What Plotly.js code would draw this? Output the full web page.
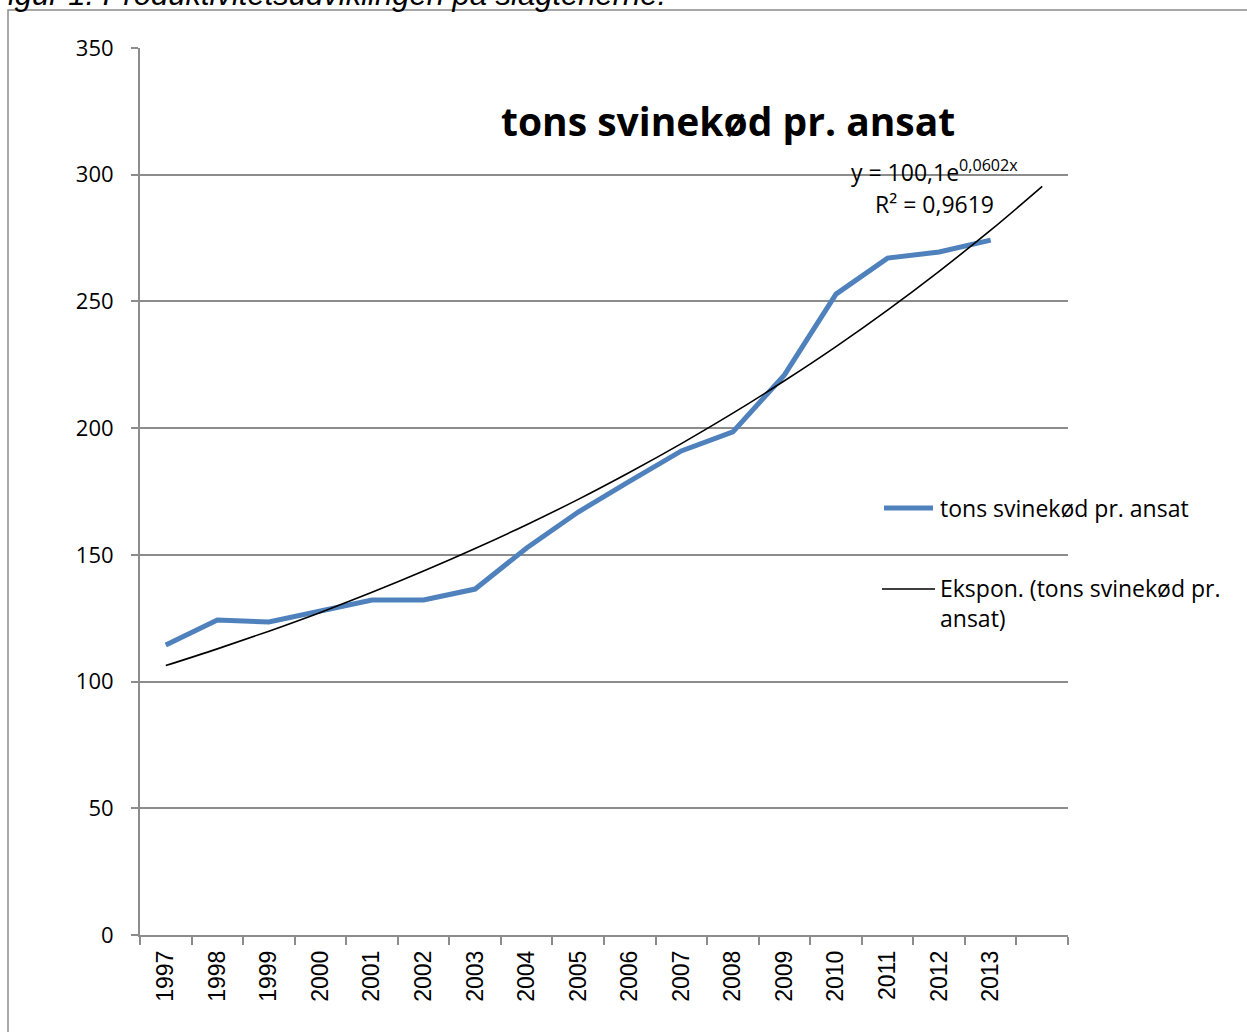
<!DOCTYPE html>
<html>
<head>
<meta charset="utf-8">
<script src="https://cdn.plot.ly/plotly-3.0.1.min.js"></script>
<style>html,body{margin:0;padding:0;background:#fff;overflow:hidden}</style>
</head>
<body>
<div id="chart" style="width:1247px;height:1032px"></div>
<script>
// ---- data ----
const years = ["1997","1998","1999","2000","2001","2002","2003","2004","2005","2006","2007","2008","2009","2010","2011","2012","2013"];
const seriesName = "tons svinekød pr. ansat";
const tonsPerEmployee = [114.4, 124.3, 123.5, 127.8, 132.2, 132.2, 136.5, 152.7, 166.9, 179.1, 191.0, 198.5, 221.0, 252.9, 267.1, 269.5, 274.2];
const trendName = "Ekspon. (tons svinekød pr. ansat)";
const trendValues = [106.3, 112.9, 119.9, 127.3, 135.2, 143.6, 152.5, 161.9, 171.9, 182.6, 193.9, 205.9, 218.7, 232.2, 246.6, 261.9, 278.1, 295.4];
const yTicks = [0, 50, 100, 150, 200, 250, 300, 350];
const equationText = "y = 100,1e<sup>0,0602x</sup>";
const r2Text = "R² = 0,9619";
const captionText = "Figur 1: Produktivitetsudviklingen på slagterierne.";

// ---- geometry helpers (layout only) ----
const W = 1247, H = 1032, L = 140, R = 1068, T = 48, B = 935;
const px = x => (x - L) / (R - L);
const py = y => (B - y) / (B - T);

const xIdx = years.map((_, i) => i + 1);
const trendIdx = trendValues.map((_, i) => i + 1);
const boundaries = trendIdx.map(i => i - 0.5).concat([trendIdx.length + 0.5]);

const FONT = "Open Sans, sans-serif";
const GRID = "#8c8c8c";

const traces = [
  {
    x: xIdx, y: tonsPerEmployee, type: "scatter", mode: "lines", name: seriesName,
    line: {color: "#4f81bd", width: 5}, showlegend: false, hoverinfo: "x+y"
  },
  {
    x: trendIdx, y: trendValues, type: "scatter", mode: "lines", name: trendName,
    line: {color: "#000000", width: 1.6, shape: "spline"}, showlegend: false
  },
  { // invisible helper trace to carry boundary tick axis
    x: [0.5], y: [0], xaxis: "x2", mode: "markers", marker: {opacity: 0}, showlegend: false, hoverinfo: "skip"
  }
];

const layout = {
  width: W, height: H,
  margin: {l: L, r: W - R, t: T, b: H - B},
  paper_bgcolor: "#ffffff", plot_bgcolor: "#ffffff",
  font: {family: FONT, color: "#000", size: 20},
  showlegend: false,
  xaxis: {
    range: [0.5, trendValues.length + 0.5],
    tickvals: xIdx, ticktext: years, tickangle: -90,
    ticks: "", showgrid: false, zeroline: false, showline: false,
    tickfont: {family: "Liberation Sans, Arial, sans-serif", size: 23, color: "#000"},
    ticklabelstandoff: 10, fixedrange: true
  },
  xaxis2: {
    overlaying: "x", range: [0.5, trendValues.length + 0.5],
    tickvals: boundaries, ticks: "outside", ticklen: 8, tickwidth: 2, tickcolor: GRID,
    showticklabels: false, showgrid: false, zeroline: false,
    showline: true, linecolor: GRID, linewidth: 2, anchor: "y", side: "bottom", fixedrange: true
  },
  yaxis: {
    range: [0, 350], tickvals: yTicks, ticktext: yTicks.map(String),
    ticks: "outside", ticklen: 7, tickwidth: 2, tickcolor: GRID,
    showgrid: true, gridcolor: GRID, gridwidth: 2,
    showline: true, linecolor: GRID, linewidth: 2, zeroline: false,
    tickfont: {family: FONT, size: 22, color: "#000"}, ticklabelstandoff: 13, fixedrange: true
  },
  shapes: [
    {type: "rect", xref: "paper", yref: "paper", x0: px(8), x1: px(1260), y0: py(1050), y1: py(10),
     line: {color: "#8c8c8c", width: 1.5}, fillcolor: "rgba(0,0,0,0)", layer: "below"},
    {type: "line", xref: "paper", yref: "paper", x0: px(884), x1: px(933), y0: py(508), y1: py(508),
     line: {color: "#4f81bd", width: 5}},
    {type: "line", xref: "paper", yref: "paper", x0: px(882), x1: px(935), y0: py(589), y1: py(589),
     line: {color: "#000000", width: 1.6}}
  ],
  annotations: [
    {text: "<b>" + seriesName + "</b>", xref: "paper", yref: "paper", x: px(728), y: py(121),
     xanchor: "center", yanchor: "middle", showarrow: false, font: {family: FONT, size: 39, color: "#000"}},
    {text: equationText, xref: "paper", yref: "paper", x: px(934), y: py(171),
     xanchor: "center", yanchor: "middle", showarrow: false, font: {family: FONT, size: 23}},
    {text: r2Text, xref: "paper", yref: "paper", x: px(934), y: py(204),
     xanchor: "center", yanchor: "middle", showarrow: false, font: {family: FONT, size: 23}},
    {text: seriesName, xref: "paper", yref: "paper", x: px(938), y: py(508),
     xanchor: "left", yanchor: "middle", showarrow: false, font: {family: FONT, size: 23}},
    {text: "Ekspon. (tons svinekød pr.<br>ansat)", xref: "paper", yref: "paper", x: px(938), y: py(603),
     xanchor: "left", yanchor: "middle", align: "left", showarrow: false, font: {family: FONT, size: 23}},
    {text: "<i>" + captionText + "</i>", xref: "paper", yref: "paper", x: px(-13), y: py(14),
     xanchor: "left", yanchor: "bottom", showarrow: false,
     font: {family: "Liberation Sans, Arial, sans-serif", size: 31, color: "#000"}}
  ]
};

Plotly.newPlot("chart", traces, layout, {displayModeBar: false, staticPlot: true});
</script>
</body>
</html>
